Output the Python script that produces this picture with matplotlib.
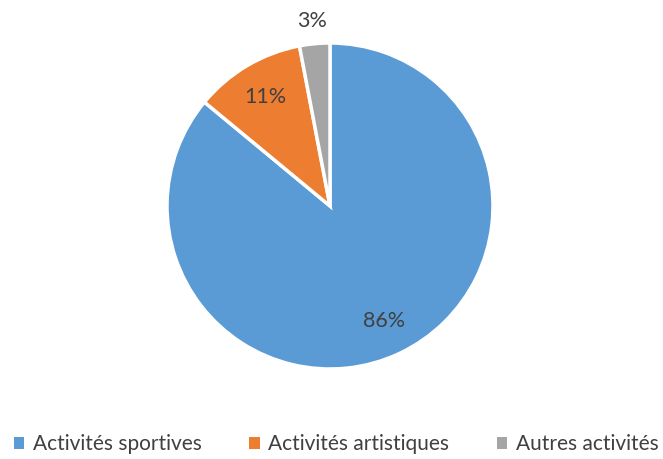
import numpy as np
import matplotlib.pyplot as plt
from matplotlib.patches import Patch

categories = ["Activités sportives", "Activités artistiques", "Autres activités"]
shares = [86, 11, 3]
labels = ["86%", "11%", "3%"]
colors = ["#5B9BD5", "#ED7D31", "#A5A5A5"]

plt.rcParams['font.family'] = ['Lato', 'DejaVu Sans']
text_color = "#404040"

fig = plt.figure(figsize=(6.63, 4.59), dpi=100)
cx, cy, r = 330, 206, 163
ax = fig.add_axes([(cx - r) / 663, 1 - (cy + r) / 459, 2 * r / 663, 2 * r / 459])

wedges, _ = ax.pie(shares, colors=colors, startangle=90, counterclock=False,
                   wedgeprops=dict(edgecolor="white", linewidth=2.5))
ax.set_xlim(-1, 1)
ax.set_ylim(-1, 1)
ax.set_aspect('auto')

# data labels: inside for large slices, outside for the small one
for w, lab, share in zip(wedges, labels, shares):
    mid = np.deg2rad((w.theta1 + w.theta2) / 2)
    dist = 0.78 if share > 5 else 1.14
    ax.text(dist * np.cos(mid), dist * np.sin(mid), lab, ha="center", va="center",
            fontsize=15.5, color=text_color)

handles = [Patch(facecolor=c, edgecolor="none") for c in colors]
fig.legend(handles, categories, loc="center", bbox_to_anchor=(0.507, 1 - 444 / 459),
           ncol=3, frameon=False, fontsize=15, labelcolor=text_color,
           handlelength=0.5, handleheight=0.5, handletextpad=0.4, columnspacing=2.3)

fig.savefig("out.png", dpi=100)
